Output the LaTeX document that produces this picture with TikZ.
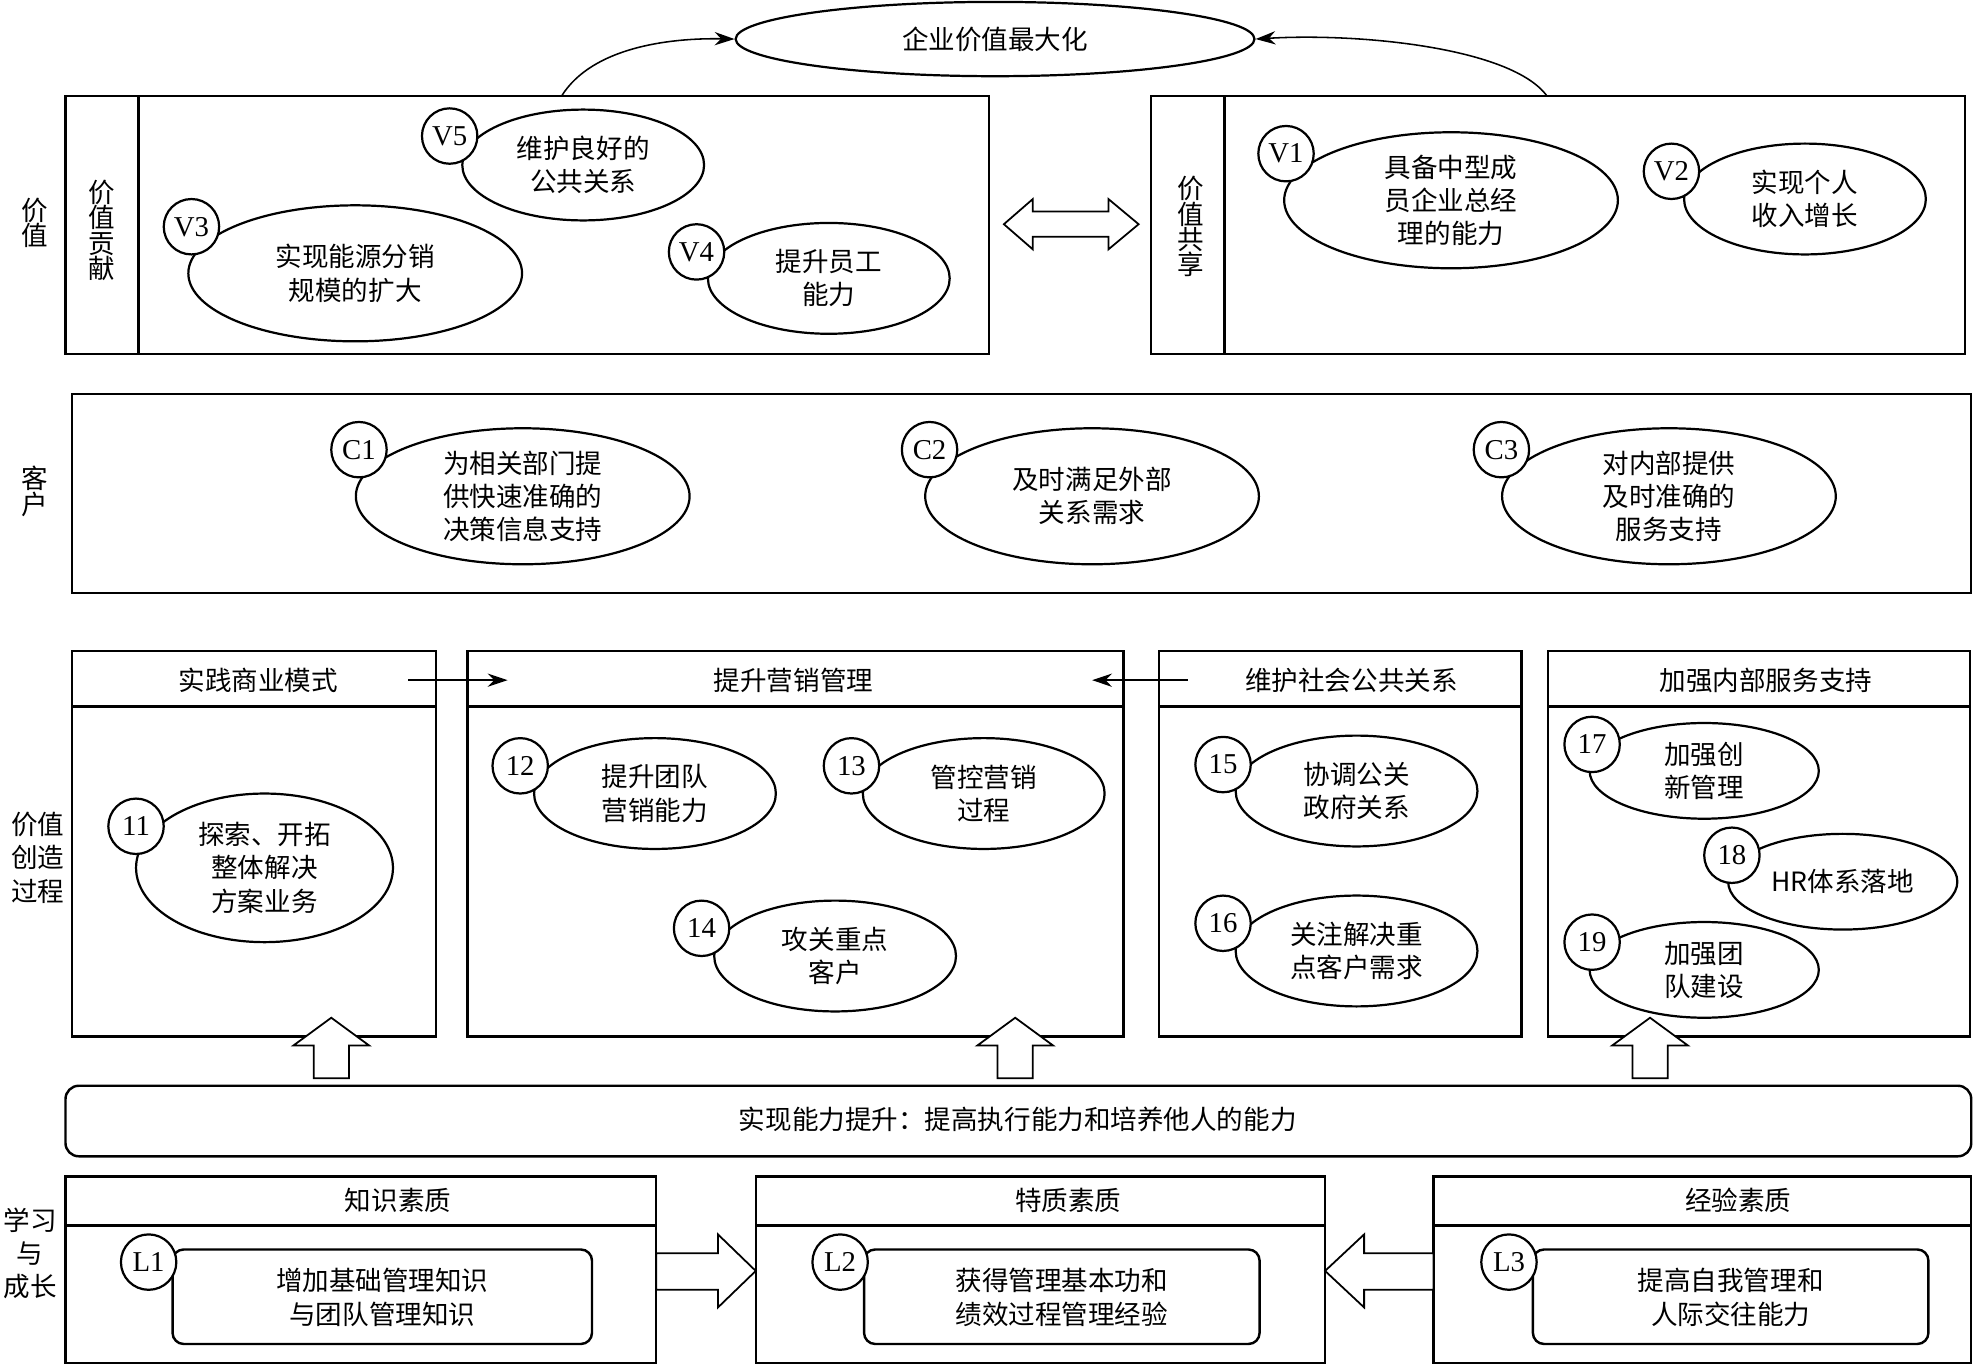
\documentclass[tikz,border=0pt]{standalone}
\usepackage{fontspec}
\setmainfont{Liberation Serif}
\newfontfamily\cjk{Noto Sans CJK SC}
\usetikzlibrary{shapes.geometric,arrows.meta}

\tikzset{
    frame/.style={draw,line width=1.1pt},
    aim/.style={ellipse,draw,line width=1pt,inner sep=0pt,align=center},
    big/.style={aim,minimum width=5.3cm,minimum height=2.16cm},
    mid/.style={aim,minimum width=3.84cm,minimum height=1.76cm},
    low/.style={aim,minimum width=3.64cm,minimum height=1.52cm},
    tag/.style={circle,draw,fill=white,line width=1pt,minimum size=0.88cm,inner sep=0pt,
        font=\rmfamily\fontsize{13}{13}\selectfont},
    stack/.style={align=center,font=\cjk\fontsize{12}{11.5}\selectfont},
    link/.style={-{Stealth[length=9pt,width=6pt]},line width=0.7pt},
    block/.style={draw,line width=0.8pt,fill=white},
}

\begin{document}
\begin{tikzpicture}[x=0.02cm,y=-0.02cm,font=\cjk\fontsize{12}{15}\selectfont]
    \useasboundingbox (0,0) rectangle (1568,1085);

    % row labels
    \node[stack] (lv) at (28,177) {价\\值};
    \node[stack] (lc) at (28,390) {客\\户};
    \node[align=center] (lp) at (30,681) {价值\\创造\\过程};
    \node[align=center] (ll) at (24,995) {学习\\与\\成长};

    % value
    \node[ellipse,draw,line width=1pt,minimum width=8.24cm,minimum height=1.18cm] (goal) at (790,31) {企业价值最大化};

    \draw[frame] (52,76) rectangle (785,281);
    \draw[frame] (110,76) -- (110,281);
    \node[stack] (vcon) at (81,183) {价\\值\\贡\\献};
    \draw[frame] (914,76) rectangle (1560,281);
    \draw[frame] (972,76) -- (972,281);
    \node[stack] (vsha) at (945,180) {价\\值\\共\\享};

    \coordinate (vconTop) at (446,76);
    \coordinate (vshaTop) at (1228,76);
    \draw[link] (vconTop) .. controls (470,38) and (530,30) .. (goal.west);
    \draw[link] (vshaTop) .. controls (1200,38) and (1080,26) .. (goal.east);

    \draw[block] (797,178) -- (820,158) -- (820,168) -- (880,168) -- (880,158) -- (904,178)
        -- (880,198) -- (880,188) -- (820,188) -- (820,198) -- cycle;

    \node[mid] (v5) at (463,131) {维护良好的\\公共关系};
    \node[tag] (v5t) at (357,108) {V5};
    \node[big] (v3) at (282,217) {实现能源分销\\规模的扩大};
    \node[tag] (v3t) at (152,180) {V3};
    \node[mid] (v4) at (658,221) {提升员工\\能力};
    \node[tag] (v4t) at (553,200) {V4};
    \node[big] (v1) at (1152,159) {具备中型成\\员企业总经\\理的能力};
    \node[tag] (v1t) at (1021,122) {V1};
    \node[mid] (v2) at (1433,158) {实现个人\\收入增长};
    \node[tag] (v2t) at (1327,136) {V2};

    % customer
    \draw[frame] (57,313) rectangle (1565,471);
    \node[big] (c1) at (415,394) {为相关部门提\\供快速准确的\\决策信息支持};
    \node[tag] (c1t) at (285,357) {C1};
    \node[big] (c2) at (867,394) {及时满足外部\\关系需求};
    \node[tag] (c2t) at (738,357) {C2};
    \node[big] (c3) at (1325,394) {对内部提供\\及时准确的\\服务支持};
    \node[tag] (c3t) at (1192,357) {C3};

    % process
    \foreach \l/\r in {57/346,371/892,920/1208,1229/1564}
        {\draw[frame] (\l,517) rectangle (\r,823);
         \draw[frame] (\l,561) -- (\r,561);}
    \node (p1) at (205,540) {实践商业模式};
    \node (p2) at (630,540) {提升营销管理};
    \node (p3) at (1073,540) {维护社会公共关系};
    \node (p4) at (1402,540) {加强内部服务支持};
    \coordinate (p1a) at (324,540);
    \coordinate (p2a) at (403,540);
    \coordinate (p2b) at (867,540);
    \coordinate (p3a) at (943,540);
    \draw[link] (p1a) -- (p2a);
    \draw[link] (p3a) -- (p2b);

    \node[aim,minimum width=4.08cm,minimum height=2.36cm] (s11) at (210,689) {探索、开拓\\整体解决\\方案业务};
    \node[tag] (s11t) at (108,656) {11};
    \node[mid] (s12) at (520,630) {提升团队\\营销能力};
    \node[tag] (s12t) at (413,608) {12};
    \node[mid] (s13) at (781,630) {管控营销\\过程};
    \node[tag] (s13t) at (676,608) {13};
    \node[mid] (s14) at (663,759) {攻关重点\\客户};
    \node[tag] (s14t) at (557,737) {14};
    \node[mid] (s15) at (1077,628) {协调公关\\政府关系};
    \node[tag] (s15t) at (971,607) {15};
    \node[mid] (s16) at (1077,755) {关注解决重\\点客户需求};
    \node[tag] (s16t) at (971,733) {16};
    \node[low] (s17) at (1353,612) {加强创\\新管理};
    \node[tag] (s17t) at (1264,591) {17};
    \node[low] (s18) at (1463,700) {HR体系落地};
    \node[tag] (s18t) at (1375,679) {18};
    \node[low] (s19) at (1353,770) {加强团\\队建设};
    \node[tag] (s19t) at (1264,748) {19};

    % capability
    \foreach \cx in {263,806,1310}
        {\draw[block] (\cx,808) -- (\cx+30,830) -- (\cx+14,830) -- (\cx+14,856)
            -- (\cx-14,856) -- (\cx-14,830) -- (\cx-30,830) -- cycle;}
    \draw[frame,rounded corners=6pt] (52,862) rectangle (1565,918);
    \node (cap) at (808,889) {实现能力提升：提高执行能力和培养他人的能力};

    % learning
    \foreach \l/\r in {52/521,600/1052,1138/1565}
        {\draw[frame] (\l,934) rectangle (\r,1082);
         \draw[frame] (\l,973) -- (\r,973);}
    \node (h1) at (316,953) {知识素质};
    \node (h2) at (848,953) {特质素质};
    \node (h3) at (1380,953) {经验素质};

    \draw[block] (521,995) -- (570,995) -- (570,980) -- (600,1009) -- (570,1038)
        -- (570,1024) -- (521,1024) -- cycle;
    \draw[block] (1138,995) -- (1083,995) -- (1083,980) -- (1052,1009) -- (1083,1038)
        -- (1083,1024) -- (1138,1024) -- cycle;

    \foreach \l/\r/\t [count=\i] in {137/470/增加基础管理知识\\与团队管理知识,
            686/1000/获得管理基本功和\\绩效过程管理经验,
            1217/1531/提高自我管理和\\人际交往能力}
        {\draw[frame,rounded corners=5pt] (\l,992) rectangle (\r,1067);
         \node[align=center] (k\i) at ({(\l+\r)/2},1030) {\t};
         \node[tag] (k\i t) at (\l-19,1002) {L\i};}
\end{tikzpicture}
\end{document}
